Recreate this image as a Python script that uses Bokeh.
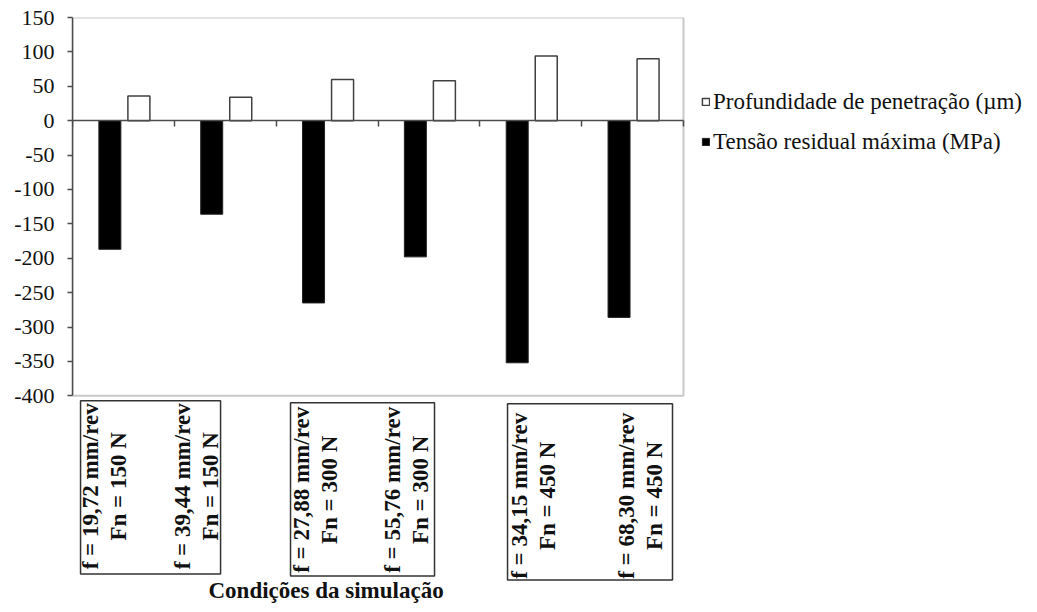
from math import pi
import numpy as np
from bokeh.plotting import figure
from bokeh.models import (ColumnDataSource, Range1d, LinearAxis, FixedTicker,
                          BoxAnnotation, Legend, LegendItem)
from bokeh.core.properties import value
from bokeh.embed import file_html
from bokeh.resources import INLINE

# ---------------- data ----------------
feed = ["19,72", "39,44", "27,88", "55,76", "34,15", "68,30"]
force = ["150", "150", "300", "300", "450", "450"]
categories = [f"f = {f} mm/rev\nFn = {n} N" for f, n in zip(feed, force)]
profundidade = [36, 34, 60, 58, 94, 90]          # µm
tensao = [-187, -136, -265, -198, -352, -286]    # MPa
y_ticks = list(range(-400, 151, 50))
legend_labels = ["Profundidade de penetração (µm)", "Tensão residual máxima (MPa)"]
x_title = "Condições da simulação"

# ---------------- layout constants ----------------
W, H = 1030, 604
LEFT, TOP = 72, 17
PX_PER_CAT = 611 / 6.0
PX_PER_UNIT = 378.3 / 550.0
Y_END = 150
Y_START = Y_END - (H - TOP) / PX_PER_UNIT
X_END = (W - LEFT) / PX_PER_CAT
n = len(categories)
idx = np.arange(n) + 0.5          # category centres on the x scale

AXIS_COLOR = "#4d4d4d"
TEXT_COLOR = "#111111"
SERIF = "Liberation Serif"

p = figure(width=W, height=H,
           x_range=Range1d(0, X_END), y_range=Range1d(Y_START, Y_END),
           x_axis_location=None, y_axis_location="left",
           output_backend="svg", toolbar_location=None,
           min_border_left=LEFT, min_border_right=0,
           min_border_top=TOP, min_border_bottom=0)
p.outline_line_color = None
p.grid.visible = False
p.background_fill_color = "white"

# y axis
ya = p.yaxis[0]
ya.ticker = FixedTicker(ticks=y_ticks)
ya.bounds = (-400, 150)
ya.major_label_overrides = {t: str(t) for t in y_ticks}
ya.major_tick_out = 5
ya.major_tick_in = 0
ya.minor_tick_line_color = None
ya.major_tick_line_color = AXIS_COLOR
ya.major_tick_line_width = 1.5
ya.axis_line_color = AXIS_COLOR
ya.axis_line_width = 1.5
ya.major_label_text_font = SERIF
ya.major_label_text_font_size = "22px"
ya.major_label_text_color = TEXT_COLOR
ya.major_label_standoff = 13

# zero line axis with ticks between categories
za = LinearAxis(ticker=FixedTicker(ticks=list(range(0, n + 1))), fixed_location=0,
                bounds=(0, n),
                major_tick_in=6, major_tick_out=0, minor_tick_line_color=None,
                major_tick_line_color=AXIS_COLOR, major_tick_line_width=1.5,
                axis_line_color=AXIS_COLOR, axis_line_width=1.5,
                major_label_text_font_size="0px", major_label_standoff=0,
                major_label_overrides={i: "" for i in range(0, n + 1)})
p.add_layout(za, "above")

# frame box of the plot area
p.add_layout(BoxAnnotation(left=0, right=n, top=150, bottom=-400, fill_alpha=0,
                           line_color=AXIS_COLOR, line_width=2))

# bars
src = ColumnDataSource(dict(xt=idx - 0.133, xp=idx + 0.152, prof=profundidade, tens=tensao))
r_t = p.vbar(x="xt", top="tens", bottom=0, width=0.216,
             source=src, fill_color="black", line_color="#222222", line_width=1)
r_p = p.vbar(x="xp", top="prof", bottom=0, width=0.216,
             source=src, fill_color="white", line_color="#404040", line_width=1.5)

# legend (inside the wide frame, right of the drawn chart box)
legend = Legend(items=[LegendItem(label=legend_labels[0], renderers=[r_p]),
                       LegendItem(label=legend_labels[1], renderers=[r_t])],
                location=(629, 449.5), orientation="vertical",
                glyph_width=9, glyph_height=9, label_standoff=3,
                label_text_font=SERIF, label_text_font_size="23px", label_text_color=TEXT_COLOR,
                label_height=26, spacing=14, padding=0, margin=0,
                border_line_color=None, background_fill_alpha=0)
p.add_layout(legend, "center")

# category labels (rotated) in boxes below the plot area
label_offsets = [-0.185, -0.282, -0.114, -0.22, 0.029, 0.079]
label_y = [-531.6, -531.6, -536.7, -536.7, -545.4, -545.4]
lab_src = ColumnDataSource(dict(x=idx + np.array(label_offsets), y=label_y, text=categories))
p.text(x="x", y="y", text="text", source=lab_src, angle=pi / 2,
       text_align="center", text_baseline="middle",
       text_font=value(SERIF), text_font_style="bold", text_font_size="23px",
       text_line_height=1.1, text_color=TEXT_COLOR)

box_left = [0.079, 2.141, 4.272]
box_right = [1.454, 3.555, 5.892]
box_top = [-407.3, -410.2, -411.6]
box_bottom = [-659.1, -662.0, -667.8]
p.quad(left=box_left, right=box_right, top=box_top, bottom=box_bottom,
       fill_color=None, line_color="#333333", line_width=1.5)

p.text(x=[2.49], y=[-683.5], text=[x_title], text_align="center", text_baseline="middle",
       text_font=value(SERIF), text_font_style="bold", text_font_size="23px",
       text_color=TEXT_COLOR)

open("out.html", "w").write(file_html(p, INLINE))
